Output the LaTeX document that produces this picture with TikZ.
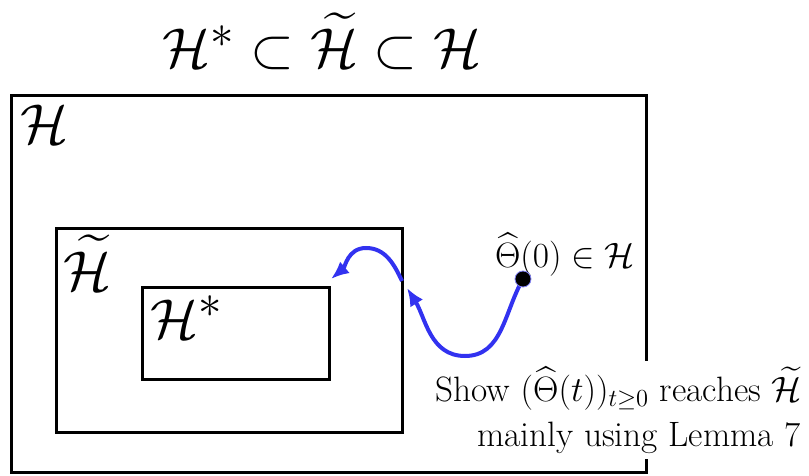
\documentclass[tikz,border=0pt]{standalone}
\usepackage{amsmath}
\usepackage{amssymb}
\usetikzlibrary{arrows.meta}
\definecolor{pathblue}{RGB}{50,50,240}

\tikzset{
  setbox/.style={line width=1.5pt},
  setname/.style={inner sep=0pt, font=\Huge, scale=1.13},
  plain/.style={font=\LARGE, scale=1.02},
  flow/.style={pathblue, line width=2pt, -{Latex[length=9pt,width=7.5pt]}},
}

\begin{document}
\begin{tikzpicture}[x=0.5pt,y=-0.5pt]
    \useasboundingbox (0,0) rectangle (809,476);

    % Title
    \node[setname, anchor=base] (title) at (322,68)
      {$\mathcal{H}^* \subset \widetilde{\mathcal{H}} \subset \mathcal{H}$};

    % Draw the three sets
    \draw[setbox] (11,96) rectangle (646,472);
    \draw[setbox] (56,228) rectangle (402,432);
    \draw[setbox] (142,287) rectangle (329,379);

    \node[setname, anchor=base west] (outer) at (20,144) {$\mathcal{H}$};
    \node[setname, anchor=base west] (middle) at (63,290) {$\widetilde{\mathcal{H}}$};
    \node[setname, anchor=base west] (inner) at (150,338) {$\mathcal{H}^*$};

    % Starting point
    \node[plain, anchor=base] (startlabel) at (565,267)
      {$\widehat{\Theta}(0) \in \mathcal{H}$};

    \coordinate (low) at (465,356);
    \coordinate (edgein) at (407,288);
    \coordinate (edgeout) at (402,281);
    \coordinate (peak) at (366,248);
    \coordinate (tip) at (331,279);

    % Trajectory
    \draw[flow] (523,279) to[out=-120,in=0] (low)
      to[out=180,in=-58] (edgein);
    \draw[flow] (edgeout) to[out=115,in=0] (peak)
      to[out=180,in=40] (tip);
    \node[circle, fill=black, draw=pathblue!60, line width=0.4pt,
      inner sep=0pt, minimum size=8pt] (start) at (523,279) {};

    % Explanation
    \node[plain, fill=white, align=center, inner sep=3pt] (note) at (639,410)
      {Show $(\widehat{\Theta}(t))_{t\geq 0}$ reaches $\widetilde{\mathcal{H}}$\hspace*{20pt}\\
       mainly using Lemma 7};

\end{tikzpicture}
\end{document}
